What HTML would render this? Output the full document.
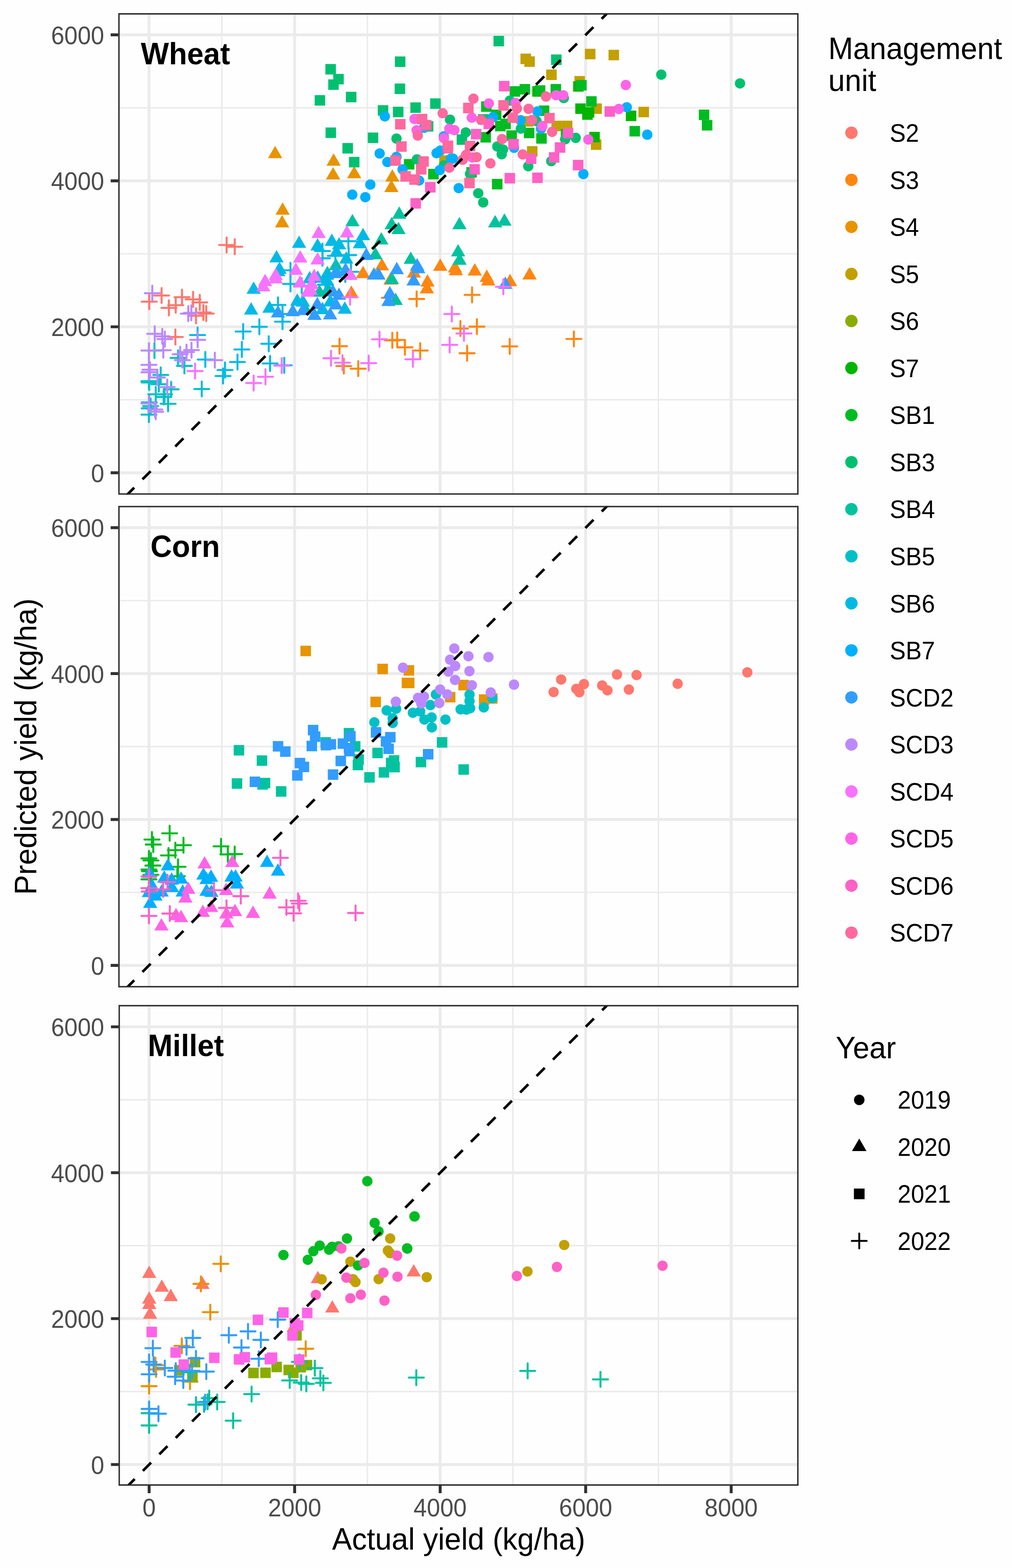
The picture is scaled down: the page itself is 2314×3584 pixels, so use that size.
<!DOCTYPE html>
<html lang="en"><head><meta charset="utf-8"><title>Predicted vs actual yield</title>
<style>html,body{margin:0;padding:0;background:#fefefe;}svg{display:block}</style></head>
<body>
<svg width="2314" height="3584" viewBox="0 0 2314 3584" font-family='"Liberation Sans", sans-serif'>
<rect width="2314" height="3584" fill="#fefefe"/>
<clipPath id="cp0"><rect x="270.3" y="30.1" width="1555.7" height="1100.7"/></clipPath>
<g clip-path="url(#cp0)">
<rect x="270.3" y="30.1" width="1555.7" height="1100.7" fill="#fefefe"/>
<path d="M270.3 913.78H1826.0M270.3 580.15H1826.0M270.3 246.52H1826.0M507.19 30.1V1130.8M839.96 30.1V1130.8M1172.74 30.1V1130.8M1505.51 30.1V1130.8" stroke="#ebebeb" stroke-width="3.33" fill="none"/>
<path d="M270.3 1080.60H1826.0M270.3 746.97H1826.0M270.3 413.33H1826.0M270.3 79.70H1826.0M340.80 30.1V1130.8M673.58 30.1V1130.8M1006.35 30.1V1130.8M1339.13 30.1V1130.8M1671.90 30.1V1130.8" stroke="#ebebeb" stroke-width="6.67" fill="none"/>
<path d="M324.1 689.5H358.4M341.2 672.4V706.6" stroke="#FF776D" stroke-width="4.6" stroke-linecap="round" fill="none"/>
<path d="M352.4 675.5H386.6M369.5 658.4V692.6" stroke="#FF776D" stroke-width="4.6" stroke-linecap="round" fill="none"/>
<path d="M369.1 703.8H403.4M386.2 686.6V720.9" stroke="#FF776D" stroke-width="4.6" stroke-linecap="round" fill="none"/>
<path d="M384.6 697.5H418.9M401.8 680.4V714.6" stroke="#FF776D" stroke-width="4.6" stroke-linecap="round" fill="none"/>
<path d="M399.1 679.2H433.4M416.2 662.1V696.4" stroke="#FF776D" stroke-width="4.6" stroke-linecap="round" fill="none"/>
<path d="M424.4 684.2H458.6M441.5 667.1V701.4" stroke="#FF776D" stroke-width="4.6" stroke-linecap="round" fill="none"/>
<path d="M439.6 691.2H473.9M456.8 674.1V708.4" stroke="#FF776D" stroke-width="4.6" stroke-linecap="round" fill="none"/>
<path d="M431.1 721.8H465.4M448.2 704.6V738.9" stroke="#FF776D" stroke-width="4.6" stroke-linecap="round" fill="none"/>
<path d="M447.9 714.2H482.1M465.0 697.1V731.4" stroke="#FF776D" stroke-width="4.6" stroke-linecap="round" fill="none"/>
<path d="M454.4 716.8H488.6M471.5 699.6V733.9" stroke="#FF776D" stroke-width="4.6" stroke-linecap="round" fill="none"/>
<path d="M501.1 560.0H535.4M518.2 542.9V577.1" stroke="#FF776D" stroke-width="4.6" stroke-linecap="round" fill="none"/>
<path d="M519.6 564.0H553.9M536.8 546.9V581.1" stroke="#FF776D" stroke-width="4.6" stroke-linecap="round" fill="none"/>
<path d="M383.9 770.2H418.1M401.0 753.1V787.4" stroke="#FF776D" stroke-width="4.6" stroke-linecap="round" fill="none"/>
<path d="M803.4 652.4L819.7 680.6L787.1 680.6Z" fill="#FF8611"/>
<path d="M873.0 680.8H907.2M890.1 663.7V697.9" stroke="#FF8611" stroke-width="4.6" stroke-linecap="round" fill="none"/>
<path d="M935.6 683.4H969.8M952.7 666.3V700.5" stroke="#FF8611" stroke-width="4.6" stroke-linecap="round" fill="none"/>
<path d="M873.2 589.7L889.5 617.9L857.0 617.9Z" fill="#FF8611"/>
<path d="M830.1 607.6L846.4 635.8L813.8 635.8Z" fill="#FF8611"/>
<path d="M946.6 606.3L962.9 634.5L930.3 634.5Z" fill="#FF8611"/>
<path d="M977.5 626.8L993.8 655.0L961.2 655.0Z" fill="#FF8611"/>
<path d="M976.1 642.3L992.4 670.5L959.8 670.5Z" fill="#FF8611"/>
<path d="M1006.6 590.7L1022.9 618.9L990.3 618.9Z" fill="#FF8611"/>
<path d="M893.0 622.1L909.3 650.4L876.7 650.4Z" fill="#FF8611"/>
<path d="M1040.4 594.5L1056.7 622.7L1024.1 622.7Z" fill="#FF8611"/>
<path d="M1042.3 601.0L1058.6 629.2L1026.0 629.2Z" fill="#FF8611"/>
<path d="M1085.6 601.5L1101.9 629.7L1069.3 629.7Z" fill="#FF8611"/>
<path d="M1113.1 616.0L1129.4 644.2L1096.8 644.2Z" fill="#FF8611"/>
<path d="M1116.4 624.2L1132.7 652.4L1100.1 652.4Z" fill="#FF8611"/>
<path d="M1166.1 625.8L1182.4 654.0L1149.8 654.0Z" fill="#FF8611"/>
<path d="M1210.9 610.6L1227.2 638.8L1194.6 638.8Z" fill="#FF8611"/>
<path d="M1062.3 674.0H1096.5M1079.4 656.9V691.1" stroke="#FF8611" stroke-width="4.6" stroke-linecap="round" fill="none"/>
<path d="M1073.4 746.6H1107.6M1090.5 729.5V763.7" stroke="#FF8611" stroke-width="4.6" stroke-linecap="round" fill="none"/>
<path d="M1035.6 750.9H1069.8M1052.7 733.8V768.0" stroke="#FF8611" stroke-width="4.6" stroke-linecap="round" fill="none"/>
<path d="M1051.0 807.4H1085.2M1068.1 790.3V824.5" stroke="#FF8611" stroke-width="4.6" stroke-linecap="round" fill="none"/>
<path d="M1148.4 791.8H1182.6M1165.5 774.7V808.9" stroke="#FF8611" stroke-width="4.6" stroke-linecap="round" fill="none"/>
<path d="M1295.1 774.7H1329.3M1312.2 757.6V791.8" stroke="#FF8611" stroke-width="4.6" stroke-linecap="round" fill="none"/>
<path d="M759.3 791.2H793.5M776.4 774.1V808.3" stroke="#FF8611" stroke-width="4.6" stroke-linecap="round" fill="none"/>
<path d="M769.1 836.8H803.3M786.2 819.7V853.9" stroke="#FF8611" stroke-width="4.6" stroke-linecap="round" fill="none"/>
<path d="M802.0 842.7H836.2M819.1 825.6V859.8" stroke="#FF8611" stroke-width="4.6" stroke-linecap="round" fill="none"/>
<path d="M879.9 778.0H914.1M897.0 760.9V795.1" stroke="#FF8611" stroke-width="4.6" stroke-linecap="round" fill="none"/>
<path d="M891.2 777.0H925.4M908.3 759.9V794.1" stroke="#FF8611" stroke-width="4.6" stroke-linecap="round" fill="none"/>
<path d="M908.8 793.9H943.0M925.9 776.8V811.0" stroke="#FF8611" stroke-width="4.6" stroke-linecap="round" fill="none"/>
<path d="M943.7 801.3H977.9M960.8 784.2V818.4" stroke="#FF8611" stroke-width="4.6" stroke-linecap="round" fill="none"/>
<path d="M646.2 462.5L662.5 490.8L630.0 490.8Z" fill="#E89300"/>
<path d="M645.0 491.5L661.3 519.8L628.7 519.8Z" fill="#E89300"/>
<path d="M761.6 381.9L777.9 410.1L745.3 410.1Z" fill="#E89300"/>
<path d="M809.9 379.2L826.2 407.4L793.6 407.4Z" fill="#E89300"/>
<path d="M762.9 350.5L779.1 378.7L746.6 378.7Z" fill="#E89300"/>
<path d="M629.1 333.2L645.4 361.4L612.8 361.4Z" fill="#E89300"/>
<path d="M897.1 386.7L913.4 414.9L880.9 414.9Z" fill="#E89300"/>
<path d="M894.9 410.7L911.2 438.9L878.6 438.9Z" fill="#E89300"/>
<rect x="1004.4" y="355.0" width="24.0" height="24.0" fill="#C1A000"/>
<rect x="1195.9" y="265.4" width="24.0" height="24.0" fill="#C1A000"/>
<rect x="1205.0" y="334.0" width="24.0" height="24.0" fill="#C1A000"/>
<rect x="1260.9" y="275.8" width="24.0" height="24.0" fill="#C1A000"/>
<rect x="1352.2" y="236.4" width="24.0" height="24.0" fill="#C1A000"/>
<rect x="1459.9" y="244.0" width="24.0" height="24.0" fill="#C1A000"/>
<rect x="1284.9" y="275.8" width="24.0" height="24.0" fill="#C1A000"/>
<rect x="1351.1" y="318.6" width="24.0" height="24.0" fill="#C1A000"/>
<rect x="1190.1" y="122.5" width="24.0" height="24.0" fill="#C1A000"/>
<rect x="1198.9" y="128.8" width="24.0" height="24.0" fill="#C1A000"/>
<rect x="1248.9" y="158.9" width="24.0" height="24.0" fill="#C1A000"/>
<rect x="1337.5" y="111.5" width="24.0" height="24.0" fill="#C1A000"/>
<rect x="1391.4" y="113.8" width="24.0" height="24.0" fill="#C1A000"/>
<rect x="1313.5" y="173.8" width="24.0" height="24.0" fill="#C1A000"/>
<rect x="1315.4" y="236.4" width="24.0" height="24.0" fill="#00B400"/>
<rect x="1331.2" y="249.8" width="24.0" height="24.0" fill="#00B400"/>
<rect x="1334.9" y="244.9" width="24.0" height="24.0" fill="#00B400"/>
<rect x="1431.0" y="252.8" width="24.0" height="24.0" fill="#00B400"/>
<rect x="1347.5" y="301.4" width="24.0" height="24.0" fill="#00B400"/>
<rect x="1217.1" y="197.0" width="24.0" height="24.0" fill="#00B400"/>
<rect x="1310.5" y="185.5" width="24.0" height="24.0" fill="#00B400"/>
<rect x="1066.3" y="381.9" width="24.0" height="24.0" fill="#00BB22"/>
<rect x="923.6" y="363.5" width="24.0" height="24.0" fill="#00BB22"/>
<rect x="979.0" y="385.9" width="24.0" height="24.0" fill="#00BB22"/>
<rect x="1100.1" y="231.6" width="24.0" height="24.0" fill="#00BB22"/>
<rect x="1122.5" y="250.5" width="24.0" height="24.0" fill="#00BB22"/>
<rect x="1132.0" y="276.2" width="24.0" height="24.0" fill="#00BB22"/>
<rect x="1144.0" y="271.2" width="24.0" height="24.0" fill="#00BB22"/>
<rect x="1098.5" y="301.8" width="24.0" height="24.0" fill="#00BB22"/>
<rect x="1157.9" y="297.9" width="24.0" height="24.0" fill="#00BB22"/>
<rect x="1197.9" y="292.0" width="24.0" height="24.0" fill="#00BB22"/>
<rect x="1226.1" y="304.4" width="24.0" height="24.0" fill="#00BB22"/>
<rect x="1232.0" y="241.1" width="24.0" height="24.0" fill="#00BB22"/>
<rect x="1124.9" y="408.9" width="24.0" height="24.0" fill="#00BB22"/>
<rect x="1340.3" y="219.9" width="24.0" height="24.0" fill="#00BB22"/>
<rect x="1282.3" y="294.6" width="24.0" height="24.0" fill="#00BB22"/>
<rect x="1439.4" y="287.9" width="24.0" height="24.0" fill="#00BB22"/>
<rect x="1165.4" y="197.0" width="24.0" height="24.0" fill="#00BB22"/>
<rect x="1188.1" y="192.0" width="24.0" height="24.0" fill="#00BB22"/>
<rect x="1222.9" y="194.9" width="24.0" height="24.0" fill="#00BB22"/>
<rect x="1258.9" y="192.0" width="24.0" height="24.0" fill="#00BB22"/>
<rect x="1317.4" y="182.9" width="24.0" height="24.0" fill="#00BB22"/>
<rect x="1597.8" y="250.5" width="24.0" height="24.0" fill="#00BB22"/>
<rect x="1604.8" y="274.3" width="24.0" height="24.0" fill="#00BB22"/>
<rect x="797.9" y="358.6" width="24.0" height="24.0" fill="#00C070"/>
<rect x="744.0" y="146.3" width="24.0" height="24.0" fill="#00C070"/>
<rect x="762.0" y="168.9" width="24.0" height="24.0" fill="#00C070"/>
<rect x="750.5" y="181.4" width="24.0" height="24.0" fill="#00C070"/>
<rect x="791.0" y="209.8" width="24.0" height="24.0" fill="#00C070"/>
<rect x="719.5" y="217.4" width="24.0" height="24.0" fill="#00C070"/>
<rect x="903.0" y="129.0" width="24.0" height="24.0" fill="#00C070"/>
<rect x="902.4" y="190.9" width="24.0" height="24.0" fill="#00C070"/>
<rect x="863.8" y="240.4" width="24.0" height="24.0" fill="#00C070"/>
<rect x="898.5" y="243.9" width="24.0" height="24.0" fill="#00C070"/>
<rect x="938.3" y="234.0" width="24.0" height="24.0" fill="#00C070"/>
<rect x="744.4" y="291.4" width="24.0" height="24.0" fill="#00C070"/>
<rect x="840.9" y="302.9" width="24.0" height="24.0" fill="#00C070"/>
<rect x="783.0" y="326.9" width="24.0" height="24.0" fill="#00C070"/>
<rect x="983.6" y="224.8" width="24.0" height="24.0" fill="#00C070"/>
<rect x="967.0" y="276.8" width="24.0" height="24.0" fill="#00C070"/>
<rect x="1044.2" y="307.0" width="24.0" height="24.0" fill="#00C070"/>
<circle cx="906.6" cy="316.8" r="11.80" fill="#00C070"/>
<circle cx="1029.0" cy="273.5" r="11.80" fill="#00C070"/>
<circle cx="1065.1" cy="302.7" r="11.80" fill="#00C070"/>
<circle cx="953.4" cy="364.4" r="11.80" fill="#00C070"/>
<circle cx="1015.1" cy="378.1" r="11.80" fill="#00C070"/>
<circle cx="1074.8" cy="397.5" r="11.80" fill="#00C070"/>
<rect x="1092.7" y="260.9" width="24.0" height="24.0" fill="#00C070"/>
<circle cx="1226.8" cy="276.8" r="11.80" fill="#00C070"/>
<circle cx="1191.0" cy="293.9" r="11.80" fill="#00C070"/>
<circle cx="1137.1" cy="334.9" r="11.80" fill="#00C070"/>
<circle cx="1150.1" cy="341.7" r="11.80" fill="#00C070"/>
<circle cx="1147.1" cy="352.7" r="11.80" fill="#00C070"/>
<circle cx="1207.9" cy="380.0" r="11.80" fill="#00C070"/>
<circle cx="1260.5" cy="368.3" r="11.80" fill="#00C070"/>
<circle cx="1289.1" cy="224.2" r="11.80" fill="#00C070"/>
<circle cx="1292.3" cy="318.3" r="11.80" fill="#00C070"/>
<circle cx="1316.4" cy="315.1" r="11.80" fill="#00C070"/>
<rect x="1128.4" y="81.9" width="24.0" height="24.0" fill="#00C070"/>
<rect x="1260.1" y="124.5" width="24.0" height="24.0" fill="#00C070"/>
<circle cx="1165.7" cy="230.0" r="11.80" fill="#00C070"/>
<circle cx="1512.1" cy="170.6" r="11.80" fill="#00C070"/>
<circle cx="1692.1" cy="190.7" r="11.80" fill="#00C070"/>
<circle cx="1093.6" cy="441.7" r="11.80" fill="#00C070"/>
<circle cx="1104.9" cy="462.7" r="11.80" fill="#00C070"/>
<path d="M768.1 589.4L784.3 617.6L751.8 617.6Z" fill="#00C29F"/>
<path d="M748.6 607.6L764.9 635.8L732.3 635.8Z" fill="#00C29F"/>
<path d="M730.4 650.1L746.7 678.3L714.1 678.3Z" fill="#00C29F"/>
<path d="M749.9 644.0L766.2 672.2L733.6 672.2Z" fill="#00C29F"/>
<path d="M697.9 689.4L714.2 717.6L681.6 717.6Z" fill="#00C29F"/>
<path d="M805.8 489.0L822.1 517.2L789.6 517.2Z" fill="#00C29F"/>
<path d="M858.3 564.5L874.6 592.7L842.0 592.7Z" fill="#00C29F"/>
<path d="M939.2 574.9L955.5 603.1L922.9 603.1Z" fill="#00C29F"/>
<path d="M896.0 621.1L912.3 649.3L879.7 649.3Z" fill="#00C29F"/>
<path d="M904.7 668.9L921.0 697.1L888.4 697.1Z" fill="#00C29F"/>
<path d="M912.9 471.7L929.1 500.0L896.6 500.0Z" fill="#00C29F"/>
<path d="M895.6 495.8L911.9 524.0L879.3 524.0Z" fill="#00C29F"/>
<path d="M911.2 506.8L927.5 535.0L894.9 535.0Z" fill="#00C29F"/>
<path d="M1050.5 495.8L1066.8 524.0L1034.2 524.0Z" fill="#00C29F"/>
<path d="M1047.5 557.9L1063.8 586.1L1031.2 586.1Z" fill="#00C29F"/>
<path d="M1050.8 576.9L1067.1 605.2L1034.5 605.2Z" fill="#00C29F"/>
<path d="M871.9 530.5L888.2 558.7L855.7 558.7Z" fill="#00C29F"/>
<path d="M1132.2 491.5L1148.5 519.7L1115.9 519.7Z" fill="#00C29F"/>
<path d="M1153.4 487.6L1169.7 515.8L1137.2 515.8Z" fill="#00C29F"/>
<path d="M336.1 801.3H370.3M353.2 784.2V818.4" stroke="#00C0C6" stroke-width="4.6" stroke-linecap="round" fill="none"/>
<path d="M390.0 818.1H424.2M407.1 801.0V835.2" stroke="#00C0C6" stroke-width="4.6" stroke-linecap="round" fill="none"/>
<path d="M404.6 836.4H438.8M421.7 819.3V853.5" stroke="#00C0C6" stroke-width="4.6" stroke-linecap="round" fill="none"/>
<path d="M350.4 857.0H384.6M367.5 839.9V874.1" stroke="#00C0C6" stroke-width="4.6" stroke-linecap="round" fill="none"/>
<path d="M323.4 871.4H357.6M340.5 854.3V888.5" stroke="#00C0C6" stroke-width="4.6" stroke-linecap="round" fill="none"/>
<path d="M324.1 874.3H358.3M341.2 857.2V891.4" stroke="#00C0C6" stroke-width="4.6" stroke-linecap="round" fill="none"/>
<path d="M346.1 878.2H380.3M363.2 861.1V895.3" stroke="#00C0C6" stroke-width="4.6" stroke-linecap="round" fill="none"/>
<path d="M374.3 889.9H408.5M391.4 872.8V907.0" stroke="#00C0C6" stroke-width="4.6" stroke-linecap="round" fill="none"/>
<path d="M339.0 901.3H373.2M356.1 884.2V918.4" stroke="#00C0C6" stroke-width="4.6" stroke-linecap="round" fill="none"/>
<path d="M359.1 901.3H393.3M376.2 884.2V918.4" stroke="#00C0C6" stroke-width="4.6" stroke-linecap="round" fill="none"/>
<path d="M357.2 907.4H391.4M374.3 890.3V924.5" stroke="#00C0C6" stroke-width="4.6" stroke-linecap="round" fill="none"/>
<path d="M367.3 923.0H401.5M384.4 905.9V940.1" stroke="#00C0C6" stroke-width="4.6" stroke-linecap="round" fill="none"/>
<path d="M324.1 919.7H358.3M341.2 902.6V936.8" stroke="#00C0C6" stroke-width="4.6" stroke-linecap="round" fill="none"/>
<path d="M327.3 928.2H361.5M344.4 911.1V945.3" stroke="#00C0C6" stroke-width="4.6" stroke-linecap="round" fill="none"/>
<path d="M324.1 933.4H358.3M341.2 916.3V950.5" stroke="#00C0C6" stroke-width="4.6" stroke-linecap="round" fill="none"/>
<path d="M323.4 947.7H357.6M340.5 930.6V964.8" stroke="#00C0C6" stroke-width="4.6" stroke-linecap="round" fill="none"/>
<path d="M444.2 889.2H478.4M461.3 872.1V906.3" stroke="#00C0C6" stroke-width="4.6" stroke-linecap="round" fill="none"/>
<path d="M434.6 765.8H468.9M451.8 748.6V782.9" stroke="#00BAE5" stroke-width="4.6" stroke-linecap="round" fill="none"/>
<path d="M538.9 757.8H573.1M556.0 740.6V774.9" stroke="#00BAE5" stroke-width="4.6" stroke-linecap="round" fill="none"/>
<path d="M575.9 747.0H610.1M593.0 729.9V764.1" stroke="#00BAE5" stroke-width="4.6" stroke-linecap="round" fill="none"/>
<path d="M597.4 785.8H631.6M614.5 768.6V802.9" stroke="#00BAE5" stroke-width="4.6" stroke-linecap="round" fill="none"/>
<path d="M580.0 643.3L596.3 671.5L563.7 671.5Z" fill="#00BAE5"/>
<path d="M574.2 690.8L590.5 719.0L558.0 719.0Z" fill="#00BAE5"/>
<path d="M616.2 686.5L632.5 714.8L600.0 714.8Z" fill="#00BAE5"/>
<path d="M452.4 821.7H486.6M469.5 804.6V838.8" stroke="#00BAE5" stroke-width="4.6" stroke-linecap="round" fill="none"/>
<path d="M535.9 798.8H570.1M553.0 781.6V815.9" stroke="#00BAE5" stroke-width="4.6" stroke-linecap="round" fill="none"/>
<path d="M525.9 827.5H560.1M543.0 810.4V844.6" stroke="#00BAE5" stroke-width="4.6" stroke-linecap="round" fill="none"/>
<path d="M497.4 845.8H531.6M514.5 828.6V862.9" stroke="#00BAE5" stroke-width="4.6" stroke-linecap="round" fill="none"/>
<path d="M492.9 859.5H527.1M510.0 842.4V876.6" stroke="#00BAE5" stroke-width="4.6" stroke-linecap="round" fill="none"/>
<path d="M600.4 830.8H634.6M617.5 813.6V847.9" stroke="#00BAE5" stroke-width="4.6" stroke-linecap="round" fill="none"/>
<path d="M632.9 835.0H667.1M650.0 817.9V852.1" stroke="#00BAE5" stroke-width="4.6" stroke-linecap="round" fill="none"/>
<path d="M647.1 617.8H681.3M664.2 600.7V634.9" stroke="#00BAE5" stroke-width="4.6" stroke-linecap="round" fill="none"/>
<path d="M647.1 649.0H681.3M664.2 631.9V666.1" stroke="#00BAE5" stroke-width="4.6" stroke-linecap="round" fill="none"/>
<path d="M672.8 653.5H707.0M689.9 636.4V670.6" stroke="#00BAE5" stroke-width="4.6" stroke-linecap="round" fill="none"/>
<path d="M720.2 573.8H754.4M737.3 556.7V590.9" stroke="#00BAE5" stroke-width="4.6" stroke-linecap="round" fill="none"/>
<path d="M720.2 590.4H754.4M737.3 573.3V607.5" stroke="#00BAE5" stroke-width="4.6" stroke-linecap="round" fill="none"/>
<path d="M780.2 583.1H814.4M797.3 566.0V600.2" stroke="#00BAE5" stroke-width="4.6" stroke-linecap="round" fill="none"/>
<path d="M779.5 551.4H813.7M796.6 534.3V568.5" stroke="#00BAE5" stroke-width="4.6" stroke-linecap="round" fill="none"/>
<path d="M749.7 584.7H783.9M766.8 567.6V601.8" stroke="#00BAE5" stroke-width="4.6" stroke-linecap="round" fill="none"/>
<path d="M618.5 697.0H652.7M635.6 679.9V714.1" stroke="#00BAE5" stroke-width="4.6" stroke-linecap="round" fill="none"/>
<path d="M628.9 717.8H663.1M646.0 700.7V734.9" stroke="#00BAE5" stroke-width="4.6" stroke-linecap="round" fill="none"/>
<path d="M628.9 735.3H663.1M646.0 718.2V752.4" stroke="#00BAE5" stroke-width="4.6" stroke-linecap="round" fill="none"/>
<path d="M726.9 650.9H761.1M744.0 633.8V668.0" stroke="#00BAE5" stroke-width="4.6" stroke-linecap="round" fill="none"/>
<path d="M785.4 621.2H819.6M802.5 604.1V638.3" stroke="#00BAE5" stroke-width="4.6" stroke-linecap="round" fill="none"/>
<path d="M772.4 627.5H806.6M789.5 610.4V644.6" stroke="#00BAE5" stroke-width="4.6" stroke-linecap="round" fill="none"/>
<path d="M632.3 571.5L648.6 599.7L616.0 599.7Z" fill="#00BAE5"/>
<path d="M639.2 597.9L655.5 626.1L622.9 626.1Z" fill="#00BAE5"/>
<path d="M636.2 603.0L652.5 631.3L619.9 631.3Z" fill="#00BAE5"/>
<path d="M683.9 538.4L700.2 566.6L667.6 566.6Z" fill="#00BAE5"/>
<path d="M726.2 544.2L742.5 572.4L709.9 572.4Z" fill="#00BAE5"/>
<path d="M758.7 533.8L775.0 562.0L742.4 562.0Z" fill="#00BAE5"/>
<path d="M775.3 541.9L791.6 570.1L759.0 570.1Z" fill="#00BAE5"/>
<path d="M769.4 558.8L785.6 587.0L753.1 587.0Z" fill="#00BAE5"/>
<path d="M791.8 574.3L808.1 602.6L775.5 602.6Z" fill="#00BAE5"/>
<path d="M823.0 539.3L839.3 567.5L806.7 567.5Z" fill="#00BAE5"/>
<path d="M708.1 619.2L724.3 647.4L691.8 647.4Z" fill="#00BAE5"/>
<path d="M726.5 618.1L742.8 646.3L710.2 646.3Z" fill="#00BAE5"/>
<path d="M748.1 611.4L764.3 639.6L731.8 639.6Z" fill="#00BAE5"/>
<path d="M769.0 603.6L785.3 631.8L752.7 631.8Z" fill="#00BAE5"/>
<path d="M679.7 670.6L696.0 698.8L663.5 698.8Z" fill="#00BAE5"/>
<path d="M692.7 672.5L709.0 700.7L676.4 700.7Z" fill="#00BAE5"/>
<path d="M788.4 688.8L804.7 717.0L772.2 717.0Z" fill="#00BAE5"/>
<path d="M737.5 689.7L753.8 717.9L721.2 717.9Z" fill="#00BAE5"/>
<path d="M830.1 520.8L846.4 549.1L813.8 549.1Z" fill="#00BAE5"/>
<path d="M747.9 624.1L764.2 652.3L731.6 652.3Z" fill="#00BAE5"/>
<path d="M755.3 672.1L771.6 700.4L739.0 700.4Z" fill="#00BAE5"/>
<circle cx="846.8" cy="421.9" r="11.80" fill="#00AFFD"/>
<circle cx="805.5" cy="444.9" r="11.80" fill="#00AFFD"/>
<circle cx="835.3" cy="450.7" r="11.80" fill="#00AFFD"/>
<circle cx="879.9" cy="266.0" r="11.80" fill="#00AFFD"/>
<circle cx="868.1" cy="350.8" r="11.80" fill="#00AFFD"/>
<circle cx="969.6" cy="292.1" r="11.80" fill="#00AFFD"/>
<circle cx="1014.8" cy="311.6" r="11.80" fill="#00AFFD"/>
<circle cx="906.6" cy="358.6" r="11.80" fill="#00AFFD"/>
<circle cx="885.8" cy="370.3" r="11.80" fill="#00AFFD"/>
<circle cx="920.5" cy="387.1" r="11.80" fill="#00AFFD"/>
<circle cx="998.2" cy="350.1" r="11.80" fill="#00AFFD"/>
<circle cx="1006.6" cy="344.3" r="11.80" fill="#00AFFD"/>
<circle cx="1031.3" cy="362.5" r="11.80" fill="#00AFFD"/>
<circle cx="1035.8" cy="362.5" r="11.80" fill="#00AFFD"/>
<circle cx="958.3" cy="412.5" r="11.80" fill="#00AFFD"/>
<circle cx="1048.8" cy="430.0" r="11.80" fill="#00AFFD"/>
<circle cx="1005.7" cy="388.7" r="11.80" fill="#00AFFD"/>
<circle cx="1127.4" cy="267.7" r="11.80" fill="#00AFFD"/>
<circle cx="1228.7" cy="254.7" r="11.80" fill="#00AFFD"/>
<circle cx="1190.4" cy="274.8" r="11.80" fill="#00AFFD"/>
<circle cx="1237.1" cy="294.3" r="11.80" fill="#00AFFD"/>
<circle cx="1175.5" cy="337.8" r="11.80" fill="#00AFFD"/>
<circle cx="1433.2" cy="245.2" r="11.80" fill="#00AFFD"/>
<circle cx="1480.0" cy="307.9" r="11.80" fill="#00AFFD"/>
<circle cx="1333.9" cy="397.9" r="11.80" fill="#00AFFD"/>
<path d="M766.8 607.6L783.0 635.8L750.5 635.8Z" fill="#329DFF"/>
<path d="M790.1 599.8L806.4 628.0L773.8 628.0Z" fill="#329DFF"/>
<path d="M760.9 649.2L777.2 677.4L744.6 677.4Z" fill="#329DFF"/>
<path d="M775.2 656.9L791.5 685.2L758.9 685.2Z" fill="#329DFF"/>
<path d="M768.1 679.0L784.3 707.2L751.8 707.2Z" fill="#329DFF"/>
<path d="M725.5 678.4L741.7 706.6L709.2 706.6Z" fill="#329DFF"/>
<path d="M719.0 703.0L735.3 731.3L702.7 731.3Z" fill="#329DFF"/>
<path d="M754.8 701.7L771.1 730.0L738.5 730.0Z" fill="#329DFF"/>
<path d="M635.6 697.2L651.9 725.4L619.3 725.4Z" fill="#329DFF"/>
<path d="M669.4 694.6L685.6 722.8L653.1 722.8Z" fill="#329DFF"/>
<path d="M692.7 692.0L709.0 720.2L676.4 720.2Z" fill="#329DFF"/>
<path d="M837.5 566.0L853.8 594.2L821.2 594.2Z" fill="#329DFF"/>
<path d="M855.1 610.8L871.4 639.1L838.8 639.1Z" fill="#329DFF"/>
<path d="M865.5 610.8L881.7 639.1L849.2 639.1Z" fill="#329DFF"/>
<path d="M907.3 598.5L923.6 626.7L891.0 626.7Z" fill="#329DFF"/>
<path d="M953.8 589.7L970.1 617.9L937.5 617.9Z" fill="#329DFF"/>
<path d="M956.4 596.2L972.7 624.4L940.1 624.4Z" fill="#329DFF"/>
<path d="M945.7 624.2L962.0 652.4L929.4 652.4Z" fill="#329DFF"/>
<path d="M891.4 653.7L907.7 681.9L875.1 681.9Z" fill="#329DFF"/>
<path d="M888.2 671.2L904.5 699.4L871.9 699.4Z" fill="#329DFF"/>
<path d="M1155.4 632.0L1171.7 660.2L1139.1 660.2Z" fill="#329DFF"/>
<path d="M331.1 670.2H365.4M348.2 653.1V687.4" stroke="#BC88FF" stroke-width="4.6" stroke-linecap="round" fill="none"/>
<path d="M413.4 717.0H447.6M430.5 699.9V734.1" stroke="#BC88FF" stroke-width="4.6" stroke-linecap="round" fill="none"/>
<path d="M420.4 715.0H454.6M437.5 697.9V732.1" stroke="#BC88FF" stroke-width="4.6" stroke-linecap="round" fill="none"/>
<path d="M336.6 763.0H370.9M353.8 745.9V780.1" stroke="#BC88FF" stroke-width="4.6" stroke-linecap="round" fill="none"/>
<path d="M353.9 768.8H388.1M371.0 751.6V785.9" stroke="#BC88FF" stroke-width="4.6" stroke-linecap="round" fill="none"/>
<path d="M359.9 775.0H394.1M377.0 757.9V792.1" stroke="#BC88FF" stroke-width="4.6" stroke-linecap="round" fill="none"/>
<path d="M434.9 776.8H469.1M452.0 759.6V793.9" stroke="#BC88FF" stroke-width="4.6" stroke-linecap="round" fill="none"/>
<path d="M323.4 801.3H357.6M340.5 784.2V818.4" stroke="#BC88FF" stroke-width="4.6" stroke-linecap="round" fill="none"/>
<path d="M356.3 800.5H390.5M373.4 783.4V817.6" stroke="#BC88FF" stroke-width="4.6" stroke-linecap="round" fill="none"/>
<path d="M323.4 834.0H357.6M340.5 816.9V851.1" stroke="#BC88FF" stroke-width="4.6" stroke-linecap="round" fill="none"/>
<path d="M326.0 845.1H360.2M343.1 828.0V862.2" stroke="#BC88FF" stroke-width="4.6" stroke-linecap="round" fill="none"/>
<path d="M323.4 850.9H357.6M340.5 833.8V868.0" stroke="#BC88FF" stroke-width="4.6" stroke-linecap="round" fill="none"/>
<path d="M342.9 862.9H377.1M360.0 845.8V880.0" stroke="#BC88FF" stroke-width="4.6" stroke-linecap="round" fill="none"/>
<path d="M365.2 884.7H399.4M382.3 867.6V901.8" stroke="#BC88FF" stroke-width="4.6" stroke-linecap="round" fill="none"/>
<path d="M323.4 922.3H357.6M340.5 905.2V939.4" stroke="#BC88FF" stroke-width="4.6" stroke-linecap="round" fill="none"/>
<path d="M337.1 936.0H371.3M354.2 918.9V953.1" stroke="#BC88FF" stroke-width="4.6" stroke-linecap="round" fill="none"/>
<path d="M339.0 941.2H373.2M356.1 924.1V958.3" stroke="#BC88FF" stroke-width="4.6" stroke-linecap="round" fill="none"/>
<path d="M420.8 800.3H455.0M437.9 783.2V817.4" stroke="#BC88FF" stroke-width="4.6" stroke-linecap="round" fill="none"/>
<path d="M409.4 804.8H443.6M426.5 787.7V821.9" stroke="#BC88FF" stroke-width="4.6" stroke-linecap="round" fill="none"/>
<path d="M394.8 809.6H429.0M411.9 792.5V826.7" stroke="#BC88FF" stroke-width="4.6" stroke-linecap="round" fill="none"/>
<path d="M400.0 823.2H434.2M417.1 806.1V840.3" stroke="#BC88FF" stroke-width="4.6" stroke-linecap="round" fill="none"/>
<path d="M474.1 823.2H508.3M491.2 806.1V840.3" stroke="#BC88FF" stroke-width="4.6" stroke-linecap="round" fill="none"/>
<path d="M602.0 637.8L618.3 666.0L585.7 666.0Z" fill="#F773FF"/>
<path d="M606.2 625.8L622.5 654.0L590.0 654.0Z" fill="#F773FF"/>
<path d="M428.9 848.1H463.1M446.0 831.0V865.2" stroke="#F773FF" stroke-width="4.6" stroke-linecap="round" fill="none"/>
<path d="M627.1 835.8H661.4M644.2 818.6V852.9" stroke="#F773FF" stroke-width="4.6" stroke-linecap="round" fill="none"/>
<path d="M589.9 861.2H624.1M607.0 844.1V878.4" stroke="#F773FF" stroke-width="4.6" stroke-linecap="round" fill="none"/>
<path d="M562.9 875.5H597.1M580.0 858.4V892.6" stroke="#F773FF" stroke-width="4.6" stroke-linecap="round" fill="none"/>
<path d="M630.5 612.0L646.8 640.2L614.2 640.2Z" fill="#F773FF"/>
<path d="M630.4 619.5L646.7 647.8L614.1 647.8Z" fill="#F773FF"/>
<path d="M686.5 571.9L702.8 600.1L670.2 600.1Z" fill="#F773FF"/>
<path d="M726.2 576.4L742.5 604.6L709.9 604.6Z" fill="#F773FF"/>
<path d="M676.5 600.1L692.8 628.3L660.2 628.3Z" fill="#F773FF"/>
<path d="M686.2 629.0L702.5 657.2L669.9 657.2Z" fill="#F773FF"/>
<path d="M718.4 614.1L734.7 642.3L702.2 642.3Z" fill="#F773FF"/>
<path d="M712.9 632.3L729.1 660.5L696.6 660.5Z" fill="#F773FF"/>
<path d="M710.6 645.5L726.9 673.7L694.4 673.7Z" fill="#F773FF"/>
<path d="M703.4 650.1L719.7 678.3L687.1 678.3Z" fill="#F773FF"/>
<path d="M801.2 611.5L817.5 639.7L784.9 639.7Z" fill="#F773FF"/>
<path d="M783.4 679.5H817.6M800.5 662.4V696.6" stroke="#F773FF" stroke-width="4.6" stroke-linecap="round" fill="none"/>
<path d="M728.5 515.9L744.8 544.1L712.2 544.1Z" fill="#F773FF"/>
<path d="M793.4 514.5L809.7 542.8L777.1 542.8Z" fill="#F773FF"/>
<path d="M1133.8 655.5H1168.0M1150.9 638.4V672.6" stroke="#F773FF" stroke-width="4.6" stroke-linecap="round" fill="none"/>
<path d="M1016.0 717.8H1050.2M1033.1 700.7V734.9" stroke="#F773FF" stroke-width="4.6" stroke-linecap="round" fill="none"/>
<path d="M1043.8 762.2H1078.0M1060.9 745.1V779.3" stroke="#F773FF" stroke-width="4.6" stroke-linecap="round" fill="none"/>
<path d="M1011.1 788.3H1045.3M1028.2 771.2V805.4" stroke="#F773FF" stroke-width="4.6" stroke-linecap="round" fill="none"/>
<path d="M739.8 818.9H774.0M756.9 801.8V836.0" stroke="#F773FF" stroke-width="4.6" stroke-linecap="round" fill="none"/>
<path d="M766.0 829.0H800.2M783.1 811.9V846.1" stroke="#F773FF" stroke-width="4.6" stroke-linecap="round" fill="none"/>
<path d="M826.0 830.0H860.2M843.1 812.9V847.1" stroke="#F773FF" stroke-width="4.6" stroke-linecap="round" fill="none"/>
<path d="M850.7 775.5H884.9M867.8 758.4V792.6" stroke="#F773FF" stroke-width="4.6" stroke-linecap="round" fill="none"/>
<path d="M927.1 821.2H961.3M944.2 804.1V838.3" stroke="#F773FF" stroke-width="4.6" stroke-linecap="round" fill="none"/>
<circle cx="947.9" cy="271.9" r="11.80" fill="#FF64E7"/>
<circle cx="952.5" cy="297.8" r="11.80" fill="#FF64E7"/>
<circle cx="1027.4" cy="294.3" r="11.80" fill="#FF64E7"/>
<circle cx="1039.1" cy="297.5" r="11.80" fill="#FF64E7"/>
<circle cx="1015.1" cy="315.7" r="11.80" fill="#FF64E7"/>
<circle cx="1078.7" cy="269.0" r="11.80" fill="#FF64E7"/>
<circle cx="1080.0" cy="359.9" r="11.80" fill="#FF64E7"/>
<circle cx="1117.7" cy="236.5" r="11.80" fill="#FF64E7"/>
<circle cx="1178.7" cy="235.2" r="11.80" fill="#FF64E7"/>
<circle cx="1240.0" cy="288.1" r="11.80" fill="#FF64E7"/>
<circle cx="1415.1" cy="249.1" r="11.80" fill="#FF64E7"/>
<circle cx="1345.2" cy="319.0" r="11.80" fill="#FF64E7"/>
<circle cx="1271.6" cy="217.7" r="11.80" fill="#FF64E7"/>
<circle cx="1287.8" cy="217.7" r="11.80" fill="#FF64E7"/>
<circle cx="1431.0" cy="194.3" r="11.80" fill="#FF64E7"/>
<rect x="971.9" y="416.1" width="24.0" height="24.0" fill="#FF61C7"/>
<rect x="1105.7" y="271.2" width="24.0" height="24.0" fill="#FF61C7"/>
<rect x="1076.7" y="294.6" width="24.0" height="24.0" fill="#FF61C7"/>
<rect x="1162.2" y="317.4" width="24.0" height="24.0" fill="#FF61C7"/>
<rect x="1202.4" y="350.9" width="24.0" height="24.0" fill="#FF61C7"/>
<rect x="1153.7" y="395.3" width="24.0" height="24.0" fill="#FF61C7"/>
<rect x="1217.0" y="394.4" width="24.0" height="24.0" fill="#FF61C7"/>
<rect x="1073.2" y="375.1" width="24.0" height="24.0" fill="#FF61C7"/>
<rect x="1255.0" y="347.9" width="24.0" height="24.0" fill="#FF61C7"/>
<rect x="1268.6" y="325.1" width="24.0" height="24.0" fill="#FF61C7"/>
<rect x="1382.3" y="242.9" width="24.0" height="24.0" fill="#FF61C7"/>
<rect x="1286.8" y="292.3" width="24.0" height="24.0" fill="#FF61C7"/>
<rect x="1309.9" y="365.4" width="24.0" height="24.0" fill="#FF61C7"/>
<rect x="1141.0" y="184.9" width="24.0" height="24.0" fill="#FF61C7"/>
<rect x="938.5" y="452.8" width="24.0" height="24.0" fill="#FF61C7"/>
<rect x="903.3" y="271.9" width="24.0" height="24.0" fill="#FF699F"/>
<rect x="953.1" y="260.2" width="24.0" height="24.0" fill="#FF699F"/>
<rect x="962.5" y="274.1" width="24.0" height="24.0" fill="#FF699F"/>
<rect x="905.9" y="322.9" width="24.0" height="24.0" fill="#FF699F"/>
<rect x="892.4" y="355.0" width="24.0" height="24.0" fill="#FF699F"/>
<rect x="956.6" y="357.2" width="24.0" height="24.0" fill="#FF699F"/>
<rect x="951.1" y="375.1" width="24.0" height="24.0" fill="#FF699F"/>
<rect x="915.4" y="391.1" width="24.0" height="24.0" fill="#FF699F"/>
<rect x="935.9" y="398.5" width="24.0" height="24.0" fill="#FF699F"/>
<rect x="1012.4" y="321.2" width="24.0" height="24.0" fill="#FF699F"/>
<rect x="1011.9" y="326.8" width="24.0" height="24.0" fill="#FF699F"/>
<rect x="1058.9" y="234.9" width="24.0" height="24.0" fill="#FF699F"/>
<rect x="1062.8" y="321.9" width="24.0" height="24.0" fill="#FF699F"/>
<rect x="1061.5" y="406.3" width="24.0" height="24.0" fill="#FF699F"/>
<circle cx="1012.2" cy="258.8" r="11.80" fill="#FF699F"/>
<circle cx="955.3" cy="309.9" r="11.80" fill="#FF699F"/>
<circle cx="1027.4" cy="383.2" r="11.80" fill="#FF699F"/>
<circle cx="1065.7" cy="354.0" r="11.80" fill="#FF699F"/>
<circle cx="1057.9" cy="365.1" r="11.80" fill="#FF699F"/>
<circle cx="1082.6" cy="225.5" r="11.80" fill="#FF699F"/>
<rect x="1139.4" y="229.0" width="24.0" height="24.0" fill="#FF699F"/>
<rect x="1160.5" y="257.0" width="24.0" height="24.0" fill="#FF699F"/>
<rect x="1244.4" y="258.0" width="24.0" height="24.0" fill="#FF699F"/>
<circle cx="1100.1" cy="273.9" r="11.80" fill="#FF699F"/>
<circle cx="1181.9" cy="248.2" r="11.80" fill="#FF699F"/>
<circle cx="1208.6" cy="248.8" r="11.80" fill="#FF699F"/>
<circle cx="1216.4" cy="274.2" r="11.80" fill="#FF699F"/>
<circle cx="1262.5" cy="301.4" r="11.80" fill="#FF699F"/>
<circle cx="1147.9" cy="317.9" r="11.80" fill="#FF699F"/>
<circle cx="1195.2" cy="353.0" r="11.80" fill="#FF699F"/>
<circle cx="1121.3" cy="373.5" r="11.80" fill="#FF699F"/>
<circle cx="1089.7" cy="359.2" r="11.80" fill="#FF699F"/>
<circle cx="1248.4" cy="220.6" r="11.80" fill="#FF699F"/>
<line x1="91.22" y1="1330.82" x2="1671.90" y2="-253.93" stroke="#000" stroke-width="6.0" stroke-dasharray="26.4 26.7" stroke-dashoffset="39.65"/>
<text transform="translate(424.00 147.10) scale(1 1.043)" font-size="68.1" text-anchor="middle" font-weight="bold" fill="#000">Wheat</text>
<rect x="270.3" y="30.1" width="1555.7" height="1100.7" fill="none" stroke="#303030" stroke-width="6.67"/>
</g>
<path d="M253.10 1080.60H270.3M253.10 746.97H270.3M253.10 413.33H270.3M253.10 79.70H270.3" stroke="#303030" stroke-width="6.67" fill="none"/>
<text transform="translate(238.30 1101.60) scale(1 1.043)" font-size="54.7" text-anchor="end" fill="#4c4c4c">0</text>
<text transform="translate(238.30 767.97) scale(1 1.043)" font-size="54.7" text-anchor="end" fill="#4c4c4c">2000</text>
<text transform="translate(238.30 434.33) scale(1 1.043)" font-size="54.7" text-anchor="end" fill="#4c4c4c">4000</text>
<text transform="translate(238.30 100.70) scale(1 1.043)" font-size="54.7" text-anchor="end" fill="#4c4c4c">6000</text>
<clipPath id="cp1"><rect x="270.3" y="1156.2" width="1555.7" height="1100.8"/></clipPath>
<g clip-path="url(#cp1)">
<rect x="270.3" y="1156.2" width="1555.7" height="1100.8" fill="#fefefe"/>
<path d="M270.3 2039.85H1826.0M270.3 1706.35H1826.0M270.3 1372.85H1826.0M507.19 1156.2V2257.0M839.96 1156.2V2257.0M1172.74 1156.2V2257.0M1505.51 1156.2V2257.0" stroke="#ebebeb" stroke-width="3.33" fill="none"/>
<path d="M270.3 2206.60H1826.0M270.3 1873.10H1826.0M270.3 1539.60H1826.0M270.3 1206.10H1826.0M340.80 1156.2V2257.0M673.58 1156.2V2257.0M1006.35 1156.2V2257.0M1339.13 1156.2V2257.0M1671.90 1156.2V2257.0" stroke="#ebebeb" stroke-width="6.67" fill="none"/>
<circle cx="1283.1" cy="1553.2" r="11.80" fill="#FF776D"/>
<circle cx="1265.9" cy="1581.8" r="11.80" fill="#FF776D"/>
<circle cx="1317.7" cy="1574.5" r="11.80" fill="#FF776D"/>
<circle cx="1324.7" cy="1582.3" r="11.80" fill="#FF776D"/>
<circle cx="1335.2" cy="1563.6" r="11.80" fill="#FF776D"/>
<circle cx="1376.9" cy="1566.8" r="11.80" fill="#FF776D"/>
<circle cx="1389.0" cy="1578.0" r="11.80" fill="#FF776D"/>
<circle cx="1410.8" cy="1541.8" r="11.80" fill="#FF776D"/>
<circle cx="1438.0" cy="1576.1" r="11.80" fill="#FF776D"/>
<circle cx="1455.6" cy="1543.0" r="11.80" fill="#FF776D"/>
<circle cx="1549.5" cy="1562.9" r="11.80" fill="#FF776D"/>
<circle cx="1708.8" cy="1536.8" r="11.80" fill="#FF776D"/>
<rect x="847.0" y="1592.4" width="24.0" height="24.0" fill="#E89300"/>
<rect x="918.5" y="1549.0" width="24.0" height="24.0" fill="#E89300"/>
<rect x="923.7" y="1549.0" width="24.0" height="24.0" fill="#E89300"/>
<rect x="1017.4" y="1581.5" width="24.0" height="24.0" fill="#E89300"/>
<rect x="1048.2" y="1553.8" width="24.0" height="24.0" fill="#E89300"/>
<rect x="1095.1" y="1587.0" width="24.0" height="24.0" fill="#E89300"/>
<rect x="1113.6" y="1584.4" width="24.0" height="24.0" fill="#E89300"/>
<rect x="922.9" y="1520.3" width="24.0" height="24.0" fill="#E89300"/>
<rect x="862.9" y="1517.0" width="24.0" height="24.0" fill="#E89300"/>
<rect x="1048.2" y="1554.0" width="24.0" height="24.0" fill="#E89300"/>
<rect x="687.0" y="1475.9" width="24.0" height="24.0" fill="#E89300"/>
<path d="M370.8 1904.7H405.0M387.9 1887.6V1921.8" stroke="#00BB22" stroke-width="4.6" stroke-linecap="round" fill="none"/>
<path d="M330.3 1919.0H364.5M347.4 1901.9V1936.1" stroke="#00BB22" stroke-width="4.6" stroke-linecap="round" fill="none"/>
<path d="M333.4 1930.4H367.6M350.5 1913.3V1947.5" stroke="#00BB22" stroke-width="4.6" stroke-linecap="round" fill="none"/>
<path d="M402.4 1931.9H436.6M419.5 1914.8V1949.0" stroke="#00BB22" stroke-width="4.6" stroke-linecap="round" fill="none"/>
<path d="M383.8 1943.2H418.0M400.9 1926.1V1960.3" stroke="#00BB22" stroke-width="4.6" stroke-linecap="round" fill="none"/>
<path d="M368.2 1955.3H402.4M385.3 1938.2V1972.4" stroke="#00BB22" stroke-width="4.6" stroke-linecap="round" fill="none"/>
<path d="M323.4 1962.1H357.6M340.5 1945.0V1979.2" stroke="#00BB22" stroke-width="4.6" stroke-linecap="round" fill="none"/>
<path d="M328.0 1966.8H362.2M345.1 1949.7V1983.9" stroke="#00BB22" stroke-width="4.6" stroke-linecap="round" fill="none"/>
<path d="M332.5 1978.4H366.7M349.6 1961.3V1995.5" stroke="#00BB22" stroke-width="4.6" stroke-linecap="round" fill="none"/>
<path d="M390.0 1981.3H424.2M407.1 1964.2V1998.4" stroke="#00BB22" stroke-width="4.6" stroke-linecap="round" fill="none"/>
<path d="M323.4 1987.5H357.6M340.5 1970.4V2004.6" stroke="#00BB22" stroke-width="4.6" stroke-linecap="round" fill="none"/>
<path d="M324.7 1991.4H358.9M341.8 1974.3V2008.5" stroke="#00BB22" stroke-width="4.6" stroke-linecap="round" fill="none"/>
<path d="M328.0 1999.5H362.2M345.1 1982.4V2016.6" stroke="#00BB22" stroke-width="4.6" stroke-linecap="round" fill="none"/>
<path d="M323.4 2009.9H357.6M340.5 1992.8V2027.0" stroke="#00BB22" stroke-width="4.6" stroke-linecap="round" fill="none"/>
<path d="M388.4 2002.7H422.6M405.5 1985.6V2019.8" stroke="#00BB22" stroke-width="4.6" stroke-linecap="round" fill="none"/>
<path d="M488.4 1934.5H522.6M505.5 1917.4V1951.6" stroke="#00BB22" stroke-width="4.6" stroke-linecap="round" fill="none"/>
<path d="M503.9 1953.0H538.1M521.0 1935.9V1970.1" stroke="#00BB22" stroke-width="4.6" stroke-linecap="round" fill="none"/>
<path d="M519.5 1952.1H553.7M536.6 1935.0V1969.2" stroke="#00BB22" stroke-width="4.6" stroke-linecap="round" fill="none"/>
<rect x="534.4" y="1702.9" width="24.0" height="24.0" fill="#00C29F"/>
<rect x="587.0" y="1726.5" width="24.0" height="24.0" fill="#00C29F"/>
<rect x="529.9" y="1778.9" width="24.0" height="24.0" fill="#00C29F"/>
<rect x="594.0" y="1777.9" width="24.0" height="24.0" fill="#00C29F"/>
<rect x="588.4" y="1780.9" width="24.0" height="24.0" fill="#00C29F"/>
<rect x="630.9" y="1797.0" width="24.0" height="24.0" fill="#00C29F"/>
<rect x="732.7" y="1685.0" width="24.0" height="24.0" fill="#00C29F"/>
<rect x="786.0" y="1663.9" width="24.0" height="24.0" fill="#00C29F"/>
<rect x="800.2" y="1694.1" width="24.0" height="24.0" fill="#00C29F"/>
<rect x="808.0" y="1723.9" width="24.0" height="24.0" fill="#00C29F"/>
<rect x="806.4" y="1736.6" width="24.0" height="24.0" fill="#00C29F"/>
<rect x="851.4" y="1709.1" width="24.0" height="24.0" fill="#00C29F"/>
<rect x="889.0" y="1726.2" width="24.0" height="24.0" fill="#00C29F"/>
<rect x="882.4" y="1732.1" width="24.0" height="24.0" fill="#00C29F"/>
<rect x="890.2" y="1741.4" width="24.0" height="24.0" fill="#00C29F"/>
<rect x="865.9" y="1753.5" width="24.0" height="24.0" fill="#00C29F"/>
<rect x="832.9" y="1764.8" width="24.0" height="24.0" fill="#00C29F"/>
<rect x="950.6" y="1729.9" width="24.0" height="24.0" fill="#00C29F"/>
<rect x="998.9" y="1684.9" width="24.0" height="24.0" fill="#00C29F"/>
<rect x="1048.2" y="1746.9" width="24.0" height="24.0" fill="#00C29F"/>
<circle cx="856.0" cy="1651.0" r="11.80" fill="#00C0C6"/>
<circle cx="884.1" cy="1623.9" r="11.80" fill="#00C0C6"/>
<circle cx="905.7" cy="1620.0" r="11.80" fill="#00C0C6"/>
<circle cx="897.9" cy="1641.8" r="11.80" fill="#00C0C6"/>
<circle cx="897.9" cy="1652.5" r="11.80" fill="#00C0C6"/>
<circle cx="944.1" cy="1629.2" r="11.80" fill="#00C0C6"/>
<circle cx="960.7" cy="1626.2" r="11.80" fill="#00C0C6"/>
<circle cx="970.4" cy="1644.7" r="11.80" fill="#00C0C6"/>
<circle cx="986.9" cy="1639.9" r="11.80" fill="#00C0C6"/>
<circle cx="984.0" cy="1611.6" r="11.80" fill="#00C0C6"/>
<circle cx="996.7" cy="1587.3" r="11.80" fill="#00C0C6"/>
<circle cx="987.5" cy="1662.7" r="11.80" fill="#00C0C6"/>
<circle cx="1018.5" cy="1644.7" r="11.80" fill="#00C0C6"/>
<circle cx="1053.2" cy="1621.4" r="11.80" fill="#00C0C6"/>
<circle cx="1073.6" cy="1587.7" r="11.80" fill="#00C0C6"/>
<circle cx="1073.6" cy="1602.3" r="11.80" fill="#00C0C6"/>
<circle cx="1075.0" cy="1618.8" r="11.80" fill="#00C0C6"/>
<circle cx="1066.2" cy="1621.8" r="11.80" fill="#00C0C6"/>
<circle cx="1106.2" cy="1616.9" r="11.80" fill="#00C0C6"/>
<circle cx="1126.0" cy="1595.8" r="11.80" fill="#00C0C6"/>
<path d="M384.0 1961.4L400.3 1989.6L367.7 1989.6Z" fill="#00AFFD"/>
<path d="M341.8 1978.2L358.1 2006.5L325.5 2006.5Z" fill="#00AFFD"/>
<path d="M375.6 1989.3L391.9 2017.5L359.3 2017.5Z" fill="#00AFFD"/>
<path d="M392.5 1993.8L408.8 2022.0L376.2 2022.0Z" fill="#00AFFD"/>
<path d="M413.9 1991.5L430.2 2019.7L397.6 2019.7Z" fill="#00AFFD"/>
<path d="M465.2 1982.4L481.5 2010.6L448.9 2010.6Z" fill="#00AFFD"/>
<path d="M482.5 1987.3L498.8 2015.5L466.2 2015.5Z" fill="#00AFFD"/>
<path d="M472.3 1992.5L488.6 2020.7L456.0 2020.7Z" fill="#00AFFD"/>
<path d="M472.3 2019.2L488.6 2047.4L456.0 2047.4Z" fill="#00AFFD"/>
<path d="M483.4 2021.7L499.7 2050.0L467.1 2050.0Z" fill="#00AFFD"/>
<path d="M417.8 2021.1L434.1 2049.3L401.5 2049.3Z" fill="#00AFFD"/>
<path d="M347.7 2007.5L364.0 2035.7L331.4 2035.7Z" fill="#00AFFD"/>
<path d="M340.5 2022.4L356.8 2050.6L324.2 2050.6Z" fill="#00AFFD"/>
<path d="M355.5 2030.2L371.7 2058.4L339.2 2058.4Z" fill="#00AFFD"/>
<path d="M369.7 2021.1L386.0 2049.3L353.5 2049.3Z" fill="#00AFFD"/>
<path d="M343.5 2047.1L359.8 2075.3L327.2 2075.3Z" fill="#00AFFD"/>
<path d="M393.1 2010.7L409.4 2038.9L376.8 2038.9Z" fill="#00AFFD"/>
<path d="M529.5 1986.7L545.8 2014.9L513.2 2014.9Z" fill="#00AFFD"/>
<path d="M538.6 1986.7L554.9 2014.9L522.3 2014.9Z" fill="#00AFFD"/>
<path d="M541.8 2002.9L558.1 2031.1L525.5 2031.1Z" fill="#00AFFD"/>
<path d="M610.6 1953.3L626.9 1981.5L594.4 1981.5Z" fill="#00AFFD"/>
<path d="M635.6 1973.3L651.9 2001.5L619.3 2001.5Z" fill="#00AFFD"/>
<rect x="623.8" y="1693.8" width="24.0" height="24.0" fill="#329DFF"/>
<rect x="640.4" y="1705.9" width="24.0" height="24.0" fill="#329DFF"/>
<rect x="570.9" y="1775.0" width="24.0" height="24.0" fill="#329DFF"/>
<rect x="703.9" y="1656.8" width="24.0" height="24.0" fill="#329DFF"/>
<rect x="708.6" y="1671.8" width="24.0" height="24.0" fill="#329DFF"/>
<rect x="701.0" y="1693.2" width="24.0" height="24.0" fill="#329DFF"/>
<rect x="733.3" y="1691.2" width="24.0" height="24.0" fill="#329DFF"/>
<rect x="744.6" y="1689.3" width="24.0" height="24.0" fill="#329DFF"/>
<rect x="772.1" y="1687.7" width="24.0" height="24.0" fill="#329DFF"/>
<rect x="673.9" y="1732.2" width="24.0" height="24.0" fill="#329DFF"/>
<rect x="682.9" y="1740.9" width="24.0" height="24.0" fill="#329DFF"/>
<rect x="667.9" y="1760.4" width="24.0" height="24.0" fill="#329DFF"/>
<rect x="749.5" y="1758.5" width="24.0" height="24.0" fill="#329DFF"/>
<rect x="767.2" y="1727.3" width="24.0" height="24.0" fill="#329DFF"/>
<rect x="789.3" y="1671.1" width="24.0" height="24.0" fill="#329DFF"/>
<rect x="786.0" y="1698.0" width="24.0" height="24.0" fill="#329DFF"/>
<rect x="787.0" y="1704.8" width="24.0" height="24.0" fill="#329DFF"/>
<rect x="847.9" y="1662.0" width="24.0" height="24.0" fill="#329DFF"/>
<rect x="880.5" y="1673.1" width="24.0" height="24.0" fill="#329DFF"/>
<rect x="870.7" y="1682.8" width="24.0" height="24.0" fill="#329DFF"/>
<rect x="876.6" y="1699.6" width="24.0" height="24.0" fill="#329DFF"/>
<rect x="967.0" y="1712.0" width="24.0" height="24.0" fill="#329DFF"/>
<circle cx="905.1" cy="1603.8" r="11.80" fill="#BC88FF"/>
<circle cx="955.8" cy="1595.1" r="11.80" fill="#BC88FF"/>
<circle cx="969.4" cy="1592.1" r="11.80" fill="#BC88FF"/>
<circle cx="963.2" cy="1607.7" r="11.80" fill="#BC88FF"/>
<circle cx="1006.4" cy="1576.0" r="11.80" fill="#BC88FF"/>
<circle cx="1023.0" cy="1587.3" r="11.80" fill="#BC88FF"/>
<circle cx="1004.5" cy="1606.8" r="11.80" fill="#BC88FF"/>
<circle cx="1040.5" cy="1554.2" r="11.80" fill="#BC88FF"/>
<circle cx="1175.3" cy="1564.9" r="11.80" fill="#BC88FF"/>
<circle cx="1122.1" cy="1582.8" r="11.80" fill="#BC88FF"/>
<circle cx="1078.9" cy="1566.2" r="11.80" fill="#BC88FF"/>
<circle cx="1073.4" cy="1534.1" r="11.80" fill="#BC88FF"/>
<circle cx="1071.1" cy="1500.0" r="11.80" fill="#BC88FF"/>
<circle cx="1116.9" cy="1501.9" r="11.80" fill="#BC88FF"/>
<circle cx="1029.2" cy="1507.8" r="11.80" fill="#BC88FF"/>
<circle cx="1040.9" cy="1522.4" r="11.80" fill="#BC88FF"/>
<circle cx="1025.3" cy="1535.1" r="11.80" fill="#BC88FF"/>
<circle cx="1038.8" cy="1482.3" r="11.80" fill="#BC88FF"/>
<circle cx="921.5" cy="1526.1" r="11.80" fill="#BC88FF"/>
<path d="M467.8 1956.8L484.1 1985.0L451.5 1985.0Z" fill="#FF64E7"/>
<path d="M430.5 2014.9L446.8 2043.1L414.2 2043.1Z" fill="#FF64E7"/>
<path d="M424.0 2034.7L440.3 2062.9L407.7 2062.9Z" fill="#FF64E7"/>
<path d="M531.0 1953.6L547.3 1981.8L514.7 1981.8Z" fill="#FF64E7"/>
<path d="M517.1 2017.5L533.4 2045.7L500.9 2045.7Z" fill="#FF64E7"/>
<path d="M616.5 2025.6L632.8 2053.9L600.2 2053.9Z" fill="#FF64E7"/>
<path d="M402.5 2074.9L418.8 2103.1L386.2 2103.1Z" fill="#FF64E7"/>
<path d="M413.9 2079.5L430.2 2107.8L397.6 2107.8Z" fill="#FF64E7"/>
<path d="M369.1 2098.6L385.4 2126.8L352.8 2126.8Z" fill="#FF64E7"/>
<path d="M463.9 2067.5L480.2 2095.7L447.6 2095.7Z" fill="#FF64E7"/>
<path d="M482.7 2056.4L499.0 2084.6L466.4 2084.6Z" fill="#FF64E7"/>
<path d="M537.4 2065.7L553.7 2093.9L521.1 2093.9Z" fill="#FF64E7"/>
<path d="M517.5 2071.2L533.8 2099.4L501.2 2099.4Z" fill="#FF64E7"/>
<path d="M519.5 2091.6L535.8 2119.8L503.2 2119.8Z" fill="#FF64E7"/>
<path d="M578.5 2069.8L594.8 2098.0L562.2 2098.0Z" fill="#FF64E7"/>
<path d="M323.4 2003.4H357.6M340.5 1986.3V2020.5" stroke="#FF61C7" stroke-width="4.6" stroke-linecap="round" fill="none"/>
<path d="M323.4 2030.0H357.6M340.5 2012.9V2047.1" stroke="#FF61C7" stroke-width="4.6" stroke-linecap="round" fill="none"/>
<path d="M324.1 2037.8H358.3M341.2 2020.7V2054.9" stroke="#FF61C7" stroke-width="4.6" stroke-linecap="round" fill="none"/>
<path d="M365.9 2016.4H400.1M383.0 1999.3V2033.5" stroke="#FF61C7" stroke-width="4.6" stroke-linecap="round" fill="none"/>
<path d="M355.9 2033.0H390.1M373.0 2015.9V2050.1" stroke="#FF61C7" stroke-width="4.6" stroke-linecap="round" fill="none"/>
<path d="M472.1 2034.8H506.3M489.2 2017.7V2051.9" stroke="#FF61C7" stroke-width="4.6" stroke-linecap="round" fill="none"/>
<path d="M624.1 1960.8H658.3M641.2 1943.7V1977.9" stroke="#FF61C7" stroke-width="4.6" stroke-linecap="round" fill="none"/>
<path d="M533.5 2048.4H567.7M550.6 2031.3V2065.5" stroke="#FF61C7" stroke-width="4.6" stroke-linecap="round" fill="none"/>
<path d="M323.4 2093.5H357.6M340.5 2076.4V2110.6" stroke="#FF61C7" stroke-width="4.6" stroke-linecap="round" fill="none"/>
<path d="M371.2 2088.1H405.4M388.3 2071.0V2105.2" stroke="#FF61C7" stroke-width="4.6" stroke-linecap="round" fill="none"/>
<path d="M500.8 2075.1H535.0M517.9 2058.0V2092.2" stroke="#FF61C7" stroke-width="4.6" stroke-linecap="round" fill="none"/>
<path d="M637.8 2074.0H672.0M654.9 2056.9V2091.1" stroke="#FF61C7" stroke-width="4.6" stroke-linecap="round" fill="none"/>
<path d="M654.3 2087.6H688.5M671.4 2070.5V2104.7" stroke="#FF61C7" stroke-width="4.6" stroke-linecap="round" fill="none"/>
<path d="M664.5 2059.0H698.7M681.6 2041.9V2076.1" stroke="#FF61C7" stroke-width="4.6" stroke-linecap="round" fill="none"/>
<path d="M667.4 2065.2H701.6M684.5 2048.1V2082.3" stroke="#FF61C7" stroke-width="4.6" stroke-linecap="round" fill="none"/>
<path d="M795.9 2086.9H830.1M813.0 2069.8V2104.0" stroke="#FF61C7" stroke-width="4.6" stroke-linecap="round" fill="none"/>
<line x1="91.22" y1="2456.72" x2="1671.90" y2="872.60" stroke="#000" stroke-width="6.0" stroke-dasharray="26.4 26.7" stroke-dashoffset="39.65"/>
<text transform="translate(423.50 1272.60) scale(1 1.043)" font-size="68.1" text-anchor="middle" font-weight="bold" fill="#000">Corn</text>
<rect x="270.3" y="1156.2" width="1555.7" height="1100.8" fill="none" stroke="#303030" stroke-width="6.67"/>
</g>
<path d="M253.10 2206.60H270.3M253.10 1873.10H270.3M253.10 1539.60H270.3M253.10 1206.10H270.3" stroke="#303030" stroke-width="6.67" fill="none"/>
<text transform="translate(238.30 2227.60) scale(1 1.043)" font-size="54.7" text-anchor="end" fill="#4c4c4c">0</text>
<text transform="translate(238.30 1894.10) scale(1 1.043)" font-size="54.7" text-anchor="end" fill="#4c4c4c">2000</text>
<text transform="translate(238.30 1560.60) scale(1 1.043)" font-size="54.7" text-anchor="end" fill="#4c4c4c">4000</text>
<text transform="translate(238.30 1227.10) scale(1 1.043)" font-size="54.7" text-anchor="end" fill="#4c4c4c">6000</text>
<clipPath id="cp2"><rect x="270.9" y="2297.0" width="1555.1" height="1098.9"/></clipPath>
<g clip-path="url(#cp2)">
<rect x="270.9" y="2297.0" width="1555.1" height="1098.9" fill="#fefefe"/>
<path d="M270.9 3180.75H1826.0M270.9 2847.25H1826.0M270.9 2513.75H1826.0M507.36 2297.0V3395.9M840.09 2297.0V3395.9M1172.81 2297.0V3395.9M1505.54 2297.0V3395.9" stroke="#ebebeb" stroke-width="3.33" fill="none"/>
<path d="M270.9 3347.50H1826.0M270.9 3014.00H1826.0M270.9 2680.50H1826.0M270.9 2347.00H1826.0M341.00 2297.0V3395.9M673.73 2297.0V3395.9M1006.45 2297.0V3395.9M1339.18 2297.0V3395.9M1671.90 2297.0V3395.9" stroke="#ebebeb" stroke-width="6.67" fill="none"/>
<path d="M341.2 2892.7L357.5 2920.9L324.9 2920.9Z" fill="#FF776D"/>
<path d="M370.0 2924.4L386.3 2952.6L353.7 2952.6Z" fill="#FF776D"/>
<path d="M390.5 2945.6L406.7 2973.9L374.2 2973.9Z" fill="#FF776D"/>
<path d="M341.2 2951.5L357.5 2979.7L324.9 2979.7Z" fill="#FF776D"/>
<path d="M341.2 2963.8L357.5 2992.0L324.9 2992.0Z" fill="#FF776D"/>
<path d="M343.1 2986.2L359.4 3014.4L326.8 3014.4Z" fill="#FF776D"/>
<path d="M462.9 2918.0L479.2 2946.2L446.6 2946.2Z" fill="#FF776D"/>
<path d="M759.8 2971.7L776.1 3000.0L743.5 3000.0Z" fill="#FF776D"/>
<path d="M671.8 3016.0L688.0 3044.2L655.5 3044.2Z" fill="#FF776D"/>
<path d="M726.8 2904.7L743.0 2933.0L710.5 2933.0Z" fill="#FF776D"/>
<path d="M946.0 2889.4L962.3 2917.6L929.7 2917.6Z" fill="#FF776D"/>
<path d="M487.7 2888.8H521.9M504.8 2871.7V2905.9" stroke="#E89300" stroke-width="4.6" stroke-linecap="round" fill="none"/>
<path d="M442.3 2934.6H476.5M459.4 2917.5V2951.7" stroke="#E89300" stroke-width="4.6" stroke-linecap="round" fill="none"/>
<path d="M463.7 2999.3H497.9M480.8 2982.2V3016.4" stroke="#E89300" stroke-width="4.6" stroke-linecap="round" fill="none"/>
<path d="M398.7 3076.2H432.9M415.8 3059.1V3093.3" stroke="#E89300" stroke-width="4.6" stroke-linecap="round" fill="none"/>
<path d="M338.4 3120.4H372.6M355.5 3103.3V3137.5" stroke="#E89300" stroke-width="4.6" stroke-linecap="round" fill="none"/>
<path d="M339.7 3130.1H373.9M356.8 3113.0V3147.2" stroke="#E89300" stroke-width="4.6" stroke-linecap="round" fill="none"/>
<path d="M323.8 3168.4H358.0M340.9 3151.3V3185.5" stroke="#E89300" stroke-width="4.6" stroke-linecap="round" fill="none"/>
<path d="M417.3 3158.1H451.5M434.4 3141.0V3175.2" stroke="#E89300" stroke-width="4.6" stroke-linecap="round" fill="none"/>
<path d="M681.9 3082.9H716.1M699.0 3065.8V3100.0" stroke="#E89300" stroke-width="4.6" stroke-linecap="round" fill="none"/>
<circle cx="892.1" cy="2830.8" r="11.80" fill="#C1A000"/>
<circle cx="886.9" cy="2858.4" r="11.80" fill="#C1A000"/>
<circle cx="891.8" cy="2864.3" r="11.80" fill="#C1A000"/>
<circle cx="801.2" cy="2883.8" r="11.80" fill="#C1A000"/>
<circle cx="735.5" cy="2924.1" r="11.80" fill="#C1A000"/>
<circle cx="807.0" cy="2923.7" r="11.80" fill="#C1A000"/>
<circle cx="812.9" cy="2930.5" r="11.80" fill="#C1A000"/>
<circle cx="865.8" cy="2923.7" r="11.80" fill="#C1A000"/>
<circle cx="975.8" cy="2919.2" r="11.80" fill="#C1A000"/>
<circle cx="1206.0" cy="2906.2" r="11.80" fill="#C1A000"/>
<circle cx="1290.1" cy="2845.7" r="11.80" fill="#C1A000"/>
<rect x="434.0" y="3101.5" width="24.0" height="24.0" fill="#8AAC00"/>
<rect x="398.0" y="3120.1" width="24.0" height="24.0" fill="#8AAC00"/>
<rect x="427.9" y="3135.0" width="24.0" height="24.0" fill="#8AAC00"/>
<rect x="666.0" y="3040.1" width="24.0" height="24.0" fill="#8AAC00"/>
<rect x="567.6" y="3126.2" width="24.0" height="24.0" fill="#8AAC00"/>
<rect x="595.1" y="3125.8" width="24.0" height="24.0" fill="#8AAC00"/>
<rect x="620.6" y="3112.5" width="24.0" height="24.0" fill="#8AAC00"/>
<rect x="648.1" y="3119.4" width="24.0" height="24.0" fill="#8AAC00"/>
<rect x="658.6" y="3125.8" width="24.0" height="24.0" fill="#8AAC00"/>
<rect x="675.7" y="3113.1" width="24.0" height="24.0" fill="#8AAC00"/>
<rect x="689.9" y="3108.3" width="24.0" height="24.0" fill="#8AAC00"/>
<circle cx="648.2" cy="2868.6" r="11.80" fill="#00BB22"/>
<circle cx="703.8" cy="2879.5" r="11.80" fill="#00BB22"/>
<circle cx="716.4" cy="2860.0" r="11.80" fill="#00BB22"/>
<circle cx="731.0" cy="2847.1" r="11.80" fill="#00BB22"/>
<circle cx="752.5" cy="2856.5" r="11.80" fill="#00BB22"/>
<circle cx="759.3" cy="2849.7" r="11.80" fill="#00BB22"/>
<circle cx="773.9" cy="2848.7" r="11.80" fill="#00BB22"/>
<circle cx="793.4" cy="2830.8" r="11.80" fill="#00BB22"/>
<circle cx="818.7" cy="2892.5" r="11.80" fill="#00BB22"/>
<circle cx="865.5" cy="2814.6" r="11.80" fill="#00BB22"/>
<circle cx="856.7" cy="2795.3" r="11.80" fill="#00BB22"/>
<circle cx="839.9" cy="2699.9" r="11.80" fill="#00BB22"/>
<circle cx="947.9" cy="2780.5" r="11.80" fill="#00BB22"/>
<circle cx="930.9" cy="2853.2" r="11.80" fill="#00BB22"/>
<circle cx="947.8" cy="2780.3" r="11.80" fill="#00BB22"/>
<circle cx="931.2" cy="2854.0" r="11.80" fill="#00BB22"/>
<path d="M416.3 3136.6H450.5M433.4 3119.5V3153.7" stroke="#00C29F" stroke-width="4.6" stroke-linecap="round" fill="none"/>
<path d="M431.0 3210.6H465.2M448.1 3193.5V3227.7" stroke="#00C29F" stroke-width="4.6" stroke-linecap="round" fill="none"/>
<path d="M449.4 3210.0H483.6M466.5 3192.9V3227.1" stroke="#00C29F" stroke-width="4.6" stroke-linecap="round" fill="none"/>
<path d="M461.3 3195.7H495.5M478.4 3178.6V3212.8" stroke="#00C29F" stroke-width="4.6" stroke-linecap="round" fill="none"/>
<path d="M457.6 3204.2H491.8M474.7 3187.1V3221.3" stroke="#00C29F" stroke-width="4.6" stroke-linecap="round" fill="none"/>
<path d="M479.5 3204.5H513.7M496.6 3187.4V3221.6" stroke="#00C29F" stroke-width="4.6" stroke-linecap="round" fill="none"/>
<path d="M323.8 3230.1H358.0M340.9 3213.0V3247.2" stroke="#00C29F" stroke-width="4.6" stroke-linecap="round" fill="none"/>
<path d="M323.8 3258.1H358.0M340.9 3241.0V3275.2" stroke="#00C29F" stroke-width="4.6" stroke-linecap="round" fill="none"/>
<path d="M667.7 3112.9H701.9M684.8 3095.8V3130.0" stroke="#00C29F" stroke-width="4.6" stroke-linecap="round" fill="none"/>
<path d="M702.8 3127.1H737.0M719.9 3110.0V3144.2" stroke="#00C29F" stroke-width="4.6" stroke-linecap="round" fill="none"/>
<path d="M645.3 3155.3H679.5M662.4 3138.2V3172.4" stroke="#00C29F" stroke-width="4.6" stroke-linecap="round" fill="none"/>
<path d="M671.6 3160.2H705.8M688.7 3143.1V3177.3" stroke="#00C29F" stroke-width="4.6" stroke-linecap="round" fill="none"/>
<path d="M683.3 3163.1H717.5M700.4 3146.0V3180.2" stroke="#00C29F" stroke-width="4.6" stroke-linecap="round" fill="none"/>
<path d="M715.4 3150.5H749.6M732.5 3133.4V3167.6" stroke="#00C29F" stroke-width="4.6" stroke-linecap="round" fill="none"/>
<path d="M722.3 3160.8H756.5M739.4 3143.7V3177.9" stroke="#00C29F" stroke-width="4.6" stroke-linecap="round" fill="none"/>
<path d="M558.2 3186.5H592.4M575.3 3169.4V3203.6" stroke="#00C29F" stroke-width="4.6" stroke-linecap="round" fill="none"/>
<path d="M516.0 3247.3H550.2M533.1 3230.2V3264.4" stroke="#00C29F" stroke-width="4.6" stroke-linecap="round" fill="none"/>
<path d="M934.8 3148.8H969.0M951.9 3131.7V3165.9" stroke="#00C29F" stroke-width="4.6" stroke-linecap="round" fill="none"/>
<path d="M1189.4 3133.5H1223.6M1206.5 3116.4V3150.6" stroke="#00C29F" stroke-width="4.6" stroke-linecap="round" fill="none"/>
<path d="M1355.9 3152.9H1390.1M1373.0 3135.8V3170.0" stroke="#00C29F" stroke-width="4.6" stroke-linecap="round" fill="none"/>
<path d="M423.8 3058.1H458.0M440.9 3041.0V3075.2" stroke="#329DFF" stroke-width="4.6" stroke-linecap="round" fill="none"/>
<path d="M409.4 3079.5H443.6M426.5 3062.4V3096.6" stroke="#329DFF" stroke-width="4.6" stroke-linecap="round" fill="none"/>
<path d="M332.4 3081.5H366.6M349.5 3064.4V3098.6" stroke="#329DFF" stroke-width="4.6" stroke-linecap="round" fill="none"/>
<path d="M506.2 3051.9H540.4M523.3 3034.8V3069.0" stroke="#329DFF" stroke-width="4.6" stroke-linecap="round" fill="none"/>
<path d="M550.0 3043.1H584.2M567.1 3026.0V3060.2" stroke="#329DFF" stroke-width="4.6" stroke-linecap="round" fill="none"/>
<path d="M579.3 3062.6H613.5M596.4 3045.5V3079.7" stroke="#329DFF" stroke-width="4.6" stroke-linecap="round" fill="none"/>
<path d="M535.0 3080.1H569.2M552.1 3063.0V3097.2" stroke="#329DFF" stroke-width="4.6" stroke-linecap="round" fill="none"/>
<path d="M323.8 3113.0H358.0M340.9 3095.9V3130.1" stroke="#329DFF" stroke-width="4.6" stroke-linecap="round" fill="none"/>
<path d="M334.2 3118.7H368.4M351.3 3101.6V3135.8" stroke="#329DFF" stroke-width="4.6" stroke-linecap="round" fill="none"/>
<path d="M359.8 3126.9H394.0M376.9 3109.8V3144.0" stroke="#329DFF" stroke-width="4.6" stroke-linecap="round" fill="none"/>
<path d="M323.8 3141.2H358.0M340.9 3124.1V3158.3" stroke="#329DFF" stroke-width="4.6" stroke-linecap="round" fill="none"/>
<path d="M431.0 3104.8H465.2M448.1 3087.7V3121.9" stroke="#329DFF" stroke-width="4.6" stroke-linecap="round" fill="none"/>
<path d="M384.8 3133.0H419.0M401.9 3115.9V3150.1" stroke="#329DFF" stroke-width="4.6" stroke-linecap="round" fill="none"/>
<path d="M421.9 3133.4H456.1M439.0 3116.3V3150.5" stroke="#329DFF" stroke-width="4.6" stroke-linecap="round" fill="none"/>
<path d="M454.6 3135.1H488.8M471.7 3118.0V3152.2" stroke="#329DFF" stroke-width="4.6" stroke-linecap="round" fill="none"/>
<path d="M383.4 3146.8H417.6M400.5 3129.7V3163.9" stroke="#329DFF" stroke-width="4.6" stroke-linecap="round" fill="none"/>
<path d="M402.0 3155.5H436.2M419.1 3138.4V3172.6" stroke="#329DFF" stroke-width="4.6" stroke-linecap="round" fill="none"/>
<path d="M323.8 3220.4H358.0M340.9 3203.3V3237.5" stroke="#329DFF" stroke-width="4.6" stroke-linecap="round" fill="none"/>
<path d="M345.2 3231.4H379.4M362.3 3214.3V3248.5" stroke="#329DFF" stroke-width="4.6" stroke-linecap="round" fill="none"/>
<path d="M452.0 3204.8H486.2M469.1 3187.7V3221.9" stroke="#329DFF" stroke-width="4.6" stroke-linecap="round" fill="none"/>
<path d="M618.0 3016.4H652.2M635.1 2999.3V3033.5" stroke="#329DFF" stroke-width="4.6" stroke-linecap="round" fill="none"/>
<path d="M574.6 3105.7H608.8M591.7 3088.6V3122.8" stroke="#329DFF" stroke-width="4.6" stroke-linecap="round" fill="none"/>
<rect x="335.0" y="3032.5" width="24.0" height="24.0" fill="#FF64E7"/>
<rect x="389.6" y="3079.4" width="24.0" height="24.0" fill="#FF64E7"/>
<rect x="478.0" y="3091.5" width="24.0" height="24.0" fill="#FF64E7"/>
<rect x="577.9" y="3004.8" width="24.0" height="24.0" fill="#FF64E7"/>
<rect x="408.4" y="3107.1" width="24.0" height="24.0" fill="#FF64E7"/>
<rect x="636.0" y="2988.1" width="24.0" height="24.0" fill="#FF64E7"/>
<rect x="690.5" y="2989.0" width="24.0" height="24.0" fill="#FF64E7"/>
<rect x="662.1" y="3012.8" width="24.0" height="24.0" fill="#FF64E7"/>
<rect x="669.9" y="3017.7" width="24.0" height="24.0" fill="#FF64E7"/>
<rect x="656.8" y="3040.5" width="24.0" height="24.0" fill="#FF64E7"/>
<rect x="534.5" y="3095.2" width="24.0" height="24.0" fill="#FF64E7"/>
<rect x="547.7" y="3090.3" width="24.0" height="24.0" fill="#FF64E7"/>
<rect x="605.0" y="3094.6" width="24.0" height="24.0" fill="#FF64E7"/>
<rect x="610.1" y="3091.3" width="24.0" height="24.0" fill="#FF64E7"/>
<rect x="672.0" y="3095.6" width="24.0" height="24.0" fill="#FF64E7"/>
<circle cx="780.7" cy="2853.6" r="11.80" fill="#FF61C7"/>
<circle cx="833.3" cy="2886.7" r="11.80" fill="#FF61C7"/>
<circle cx="792.0" cy="2920.4" r="11.80" fill="#FF61C7"/>
<circle cx="876.8" cy="2909.1" r="11.80" fill="#FF61C7"/>
<circle cx="907.9" cy="2870.1" r="11.80" fill="#FF61C7"/>
<circle cx="908.9" cy="2918.2" r="11.80" fill="#FF61C7"/>
<circle cx="722.3" cy="2959.7" r="11.80" fill="#FF61C7"/>
<circle cx="801.2" cy="2967.5" r="11.80" fill="#FF61C7"/>
<circle cx="825.1" cy="2959.4" r="11.80" fill="#FF61C7"/>
<circle cx="879.1" cy="2972.8" r="11.80" fill="#FF61C7"/>
<circle cx="1181.8" cy="2916.6" r="11.80" fill="#FF61C7"/>
<circle cx="1273.5" cy="2895.8" r="11.80" fill="#FF61C7"/>
<circle cx="1515.0" cy="2893.1" r="11.80" fill="#FF61C7"/>
<line x1="91.46" y1="3597.62" x2="1671.90" y2="2013.50" stroke="#000" stroke-width="6.0" stroke-dasharray="26.4 26.7" stroke-dashoffset="38.55"/>
<text transform="translate(425.00 2414.10) scale(1 1.043)" font-size="68.1" text-anchor="middle" font-weight="bold" fill="#000">Millet</text>
<rect x="270.9" y="2297.0" width="1555.1" height="1098.9" fill="none" stroke="#303030" stroke-width="6.67"/>
</g>
<path d="M253.70 3347.50H270.9M253.70 3014.00H270.9M253.70 2680.50H270.9M253.70 2347.00H270.9M341.00 3395.9V3412.9M673.73 3395.9V3412.9M1006.45 3395.9V3412.9M1339.18 3395.9V3412.9M1671.90 3395.9V3412.9" stroke="#303030" stroke-width="6.67" fill="none"/>
<text transform="translate(238.30 3368.50) scale(1 1.043)" font-size="54.7" text-anchor="end" fill="#4c4c4c">0</text>
<text transform="translate(238.30 3035.00) scale(1 1.043)" font-size="54.7" text-anchor="end" fill="#4c4c4c">2000</text>
<text transform="translate(238.30 2701.50) scale(1 1.043)" font-size="54.7" text-anchor="end" fill="#4c4c4c">4000</text>
<text transform="translate(238.30 2368.00) scale(1 1.043)" font-size="54.7" text-anchor="end" fill="#4c4c4c">6000</text>
<text transform="translate(341.00 3465.50) scale(1 1.043)" font-size="54.7" text-anchor="middle" fill="#4c4c4c">0</text>
<text transform="translate(673.73 3465.50) scale(1 1.043)" font-size="54.7" text-anchor="middle" fill="#4c4c4c">2000</text>
<text transform="translate(1006.45 3465.50) scale(1 1.043)" font-size="54.7" text-anchor="middle" fill="#4c4c4c">4000</text>
<text transform="translate(1339.18 3465.50) scale(1 1.043)" font-size="54.7" text-anchor="middle" fill="#4c4c4c">6000</text>
<text transform="translate(1671.90 3465.50) scale(1 1.043)" font-size="54.7" text-anchor="middle" fill="#4c4c4c">8000</text>
<text transform="translate(1048.80 3541.80) scale(1 1.043)" font-size="68.1" text-anchor="middle" fill="#000">Actual yield (kg/ha)</text>
<text transform="translate(83.20 1706.50) rotate(-90) scale(1 1.043)" font-size="68.1" text-anchor="middle" fill="#000">Predicted yield (kg/ha)</text>
<text transform="translate(1894.00 135.30) scale(1 1.043)" font-size="68.1" fill="#000">Management</text>
<text transform="translate(1894.00 208.30) scale(1 1.043)" font-size="68.1" fill="#000">unit</text>
<circle cx="1946.8" cy="303.50" r="14.15" fill="#FF776D"/>
<text transform="translate(2034.50 324.00) scale(1 1.043)" font-size="54.7" fill="#000">S2</text>
<circle cx="1946.8" cy="411.05" r="14.15" fill="#FF8611"/>
<text transform="translate(2034.50 431.55) scale(1 1.043)" font-size="54.7" fill="#000">S3</text>
<circle cx="1946.8" cy="518.60" r="14.15" fill="#E89300"/>
<text transform="translate(2034.50 539.10) scale(1 1.043)" font-size="54.7" fill="#000">S4</text>
<circle cx="1946.8" cy="626.15" r="14.15" fill="#C1A000"/>
<text transform="translate(2034.50 646.65) scale(1 1.043)" font-size="54.7" fill="#000">S5</text>
<circle cx="1946.8" cy="733.70" r="14.15" fill="#8AAC00"/>
<text transform="translate(2034.50 754.20) scale(1 1.043)" font-size="54.7" fill="#000">S6</text>
<circle cx="1946.8" cy="841.25" r="14.15" fill="#00B400"/>
<text transform="translate(2034.50 861.75) scale(1 1.043)" font-size="54.7" fill="#000">S7</text>
<circle cx="1946.8" cy="948.80" r="14.15" fill="#00BB22"/>
<text transform="translate(2034.50 969.30) scale(1 1.043)" font-size="54.7" fill="#000">SB1</text>
<circle cx="1946.8" cy="1056.35" r="14.15" fill="#00C070"/>
<text transform="translate(2034.50 1076.85) scale(1 1.043)" font-size="54.7" fill="#000">SB3</text>
<circle cx="1946.8" cy="1163.90" r="14.15" fill="#00C29F"/>
<text transform="translate(2034.50 1184.40) scale(1 1.043)" font-size="54.7" fill="#000">SB4</text>
<circle cx="1946.8" cy="1271.45" r="14.15" fill="#00C0C6"/>
<text transform="translate(2034.50 1291.95) scale(1 1.043)" font-size="54.7" fill="#000">SB5</text>
<circle cx="1946.8" cy="1379.00" r="14.15" fill="#00BAE5"/>
<text transform="translate(2034.50 1399.50) scale(1 1.043)" font-size="54.7" fill="#000">SB6</text>
<circle cx="1946.8" cy="1486.55" r="14.15" fill="#00AFFD"/>
<text transform="translate(2034.50 1507.05) scale(1 1.043)" font-size="54.7" fill="#000">SB7</text>
<circle cx="1946.8" cy="1594.10" r="14.15" fill="#329DFF"/>
<text transform="translate(2034.50 1614.60) scale(1 1.043)" font-size="54.7" fill="#000">SCD2</text>
<circle cx="1946.8" cy="1701.65" r="14.15" fill="#BC88FF"/>
<text transform="translate(2034.50 1722.15) scale(1 1.043)" font-size="54.7" fill="#000">SCD3</text>
<circle cx="1946.8" cy="1809.20" r="14.15" fill="#F773FF"/>
<text transform="translate(2034.50 1829.70) scale(1 1.043)" font-size="54.7" fill="#000">SCD4</text>
<circle cx="1946.8" cy="1916.75" r="14.15" fill="#FF64E7"/>
<text transform="translate(2034.50 1937.25) scale(1 1.043)" font-size="54.7" fill="#000">SCD5</text>
<circle cx="1946.8" cy="2024.30" r="14.15" fill="#FF61C7"/>
<text transform="translate(2034.50 2044.80) scale(1 1.043)" font-size="54.7" fill="#000">SCD6</text>
<circle cx="1946.8" cy="2131.85" r="14.15" fill="#FF699F"/>
<text transform="translate(2034.50 2152.35) scale(1 1.043)" font-size="54.7" fill="#000">SCD7</text>
<text transform="translate(1911.00 2419.10) scale(1 1.043)" font-size="68.1" fill="#000">Year</text>
<circle cx="1964.7" cy="2513.9" r="12.00" fill="#000"/>
<text transform="translate(2052.50 2534.40) scale(1 1.043)" font-size="54.7" fill="#000">2019</text>
<path d="M1964.7 2602.3L1981.3 2631.0L1948.1 2631.0Z" fill="#000"/>
<text transform="translate(2052.50 2641.90) scale(1 1.043)" font-size="54.7" fill="#000">2020</text>
<rect x="1952.5" y="2716.7" width="24.4" height="24.4" fill="#000"/>
<text transform="translate(2052.50 2749.40) scale(1 1.043)" font-size="54.7" fill="#000">2021</text>
<path d="M1947.6 2836.4H1981.8M1964.7 2819.3V2853.5" stroke="#000" stroke-width="4.3" stroke-linecap="round" fill="none"/>
<text transform="translate(2052.50 2856.90) scale(1 1.043)" font-size="54.7" fill="#000">2022</text>
</svg>
</body></html>
